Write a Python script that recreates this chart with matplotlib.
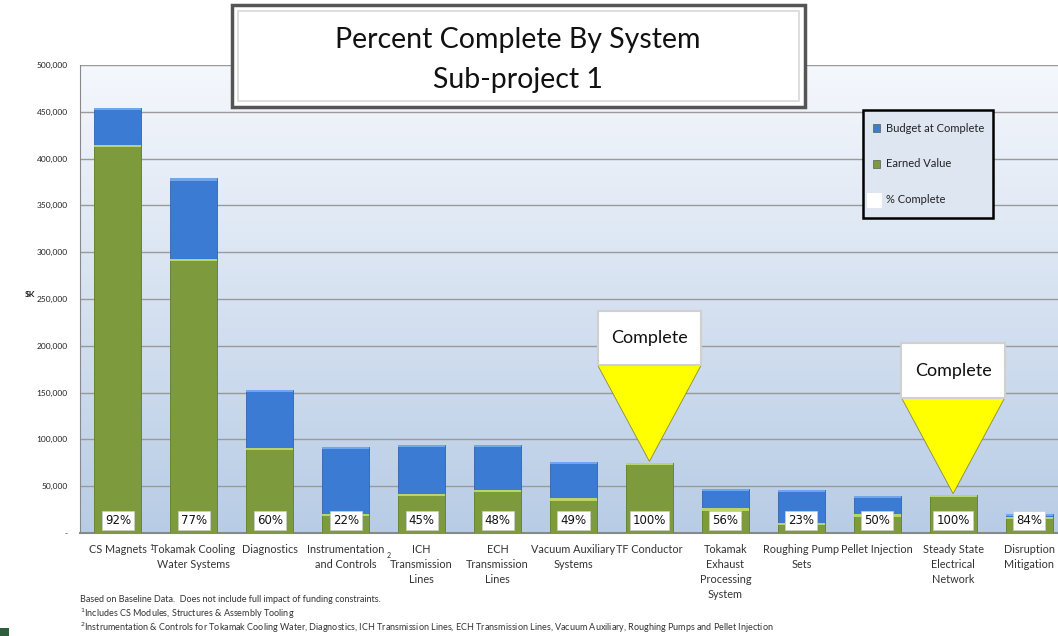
import matplotlib
matplotlib.use("Agg")
import matplotlib.pyplot as plt
import numpy as np
from matplotlib.patches import Rectangle, Polygon

plt.rcParams['font.family'] = ['Lato', 'DejaVu Sans']

categories = ["CS Magnets", "Tokamak Cooling\nWater Systems", "Diagnostics",
              "Instrumentation\nand Controls", "ICH\nTransmission\nLines",
              "ECH\nTransmission\nLines", "Vacuum Auxiliary\nSystems", "TF Conductor",
              "Tokamak\nExhaust\nProcessing\nSystem", "Roughing Pump\nSets",
              "Pellet Injection", "Steady State\nElectrical\nNetwork", "Disruption\nMitigation"]
budget = [454000, 379000, 153000, 92000, 94000, 94000, 76000, 75000, 47000, 46000, 39500, 40500, 20300]
earned = [415000, 293000, 91000, 20300, 41700, 46000, 37000, 75000, 26300, 10600, 19800, 40500, 17000]
pct_labels = ["92%", "77%", "60%", "22%", "45%", "48%", "49%", "100%", "56%", "23%", "50%", "100%", "84%"]
complete_idx = [7, 11]
yticks = [0, 50000, 100000, 150000, 200000, 250000, 300000, 350000, 400000, 450000, 500000]
ytick_labels = ["-", "50,000", "100,000", "150,000", "200,000", "250,000", "300,000",
                "350,000", "400,000", "450,000", "500,000"]

W, H = 1058, 636
fig = plt.figure(figsize=(W/100, H/100), dpi=100)
fig.patch.set_facecolor('white')

ax_l, ax_r, ax_t, ax_b = 80, 1067, 65, 533
ax = fig.add_axes([ax_l/W, 1-ax_b/H, (ax_r-ax_l)/W, (ax_b-ax_t)/H])
n = len(categories)
x = np.arange(n)
ax.set_xlim(-0.5, n-0.5)
ax.set_ylim(0, 500000)

# gradient background
grad = np.linspace(0, 1, 256).reshape(-1, 1)
c_top = np.array([0.96, 0.97, 0.99])
c_bot = np.array([0.72, 0.80, 0.90])
img = c_bot[None, None, :]*(1-grad[:, :, None]) + c_top[None, None, :]*grad[:, :, None]
ax.imshow(img, extent=[-0.5, n-0.5, 0, 500000], aspect='auto', origin='lower', zorder=0)

for yv in yticks[1:]:
    ax.axhline(yv, color='#9a9a9a', lw=1.0, zorder=1)

bw = 0.62
blue = '#3b7bd4'
green = '#7d9b3c'
ax.bar(x, budget, width=bw, color=blue, edgecolor='#2f65ad', lw=0.6, zorder=2)
for i in range(n):
    ax.add_patch(Rectangle((x[i]-bw/2, budget[i]-2500), bw, 2500, color='#6fa6ec', zorder=2.1, lw=0))
ax.bar(x, earned, width=bw, color=green, edgecolor='#6a8530', lw=0.6, zorder=3)
for i in range(n):
    ax.add_patch(Rectangle((x[i]-bw/2, earned[i]-2500), bw, 2500, color='#b9d46a', zorder=3.1, lw=0))

for i in range(n):
    ax.text(x[i], 13500, pct_labels[i], ha='center', va='center', fontsize=8.5,
            family=['DejaVu Sans'], color='#111111', zorder=5,
            bbox=dict(boxstyle='square,pad=0.25', fc='white', ec='#cccccc', lw=0.5))

ax.set_yticks(yticks)
ax.set_yticklabels(ytick_labels, fontsize=6, color='#222222')
ax.tick_params(axis='y', length=0, pad=9)
ax.set_xticks(x)
ax.set_xticklabels(categories, fontsize=7.8, color='#333333', linespacing=1.45)
ax.tick_params(axis='x', length=0, pad=8)
for s in ['top', 'right']:
    ax.spines[s].set_visible(False)
ax.spines['left'].set_color('#888888')
ax.spines['bottom'].set_color('#888888')
ax.spines['bottom'].set_linewidth(1.5)

fig.text(30/W, 1-295/H, "$K", fontsize=6, ha='center', va='center', color='#222222', fontweight='bold')
fig.text(151/W, 1-547/H, "1", fontsize=5, ha='center', va='center', color='#333333')
fig.text(389/W, 1-556/H, "2", fontsize=5, ha='center', va='center', color='#333333')

# Complete callouts
for i in complete_idx:
    tip = budget[i] + 1500
    tri_top = budget[i] + 104000
    box_top = tri_top + 58000
    hw = 0.68
    ax.add_patch(Polygon([[x[i]-hw, tri_top], [x[i]+hw, tri_top], [x[i], tip]], closed=True,
                         fc='#ffff00', ec='#8a8a40', lw=0.6, zorder=6))
    ax.add_patch(Rectangle((x[i]-hw, tri_top), 2*hw, box_top-tri_top, fc='white',
                           ec='#d0d0d0', lw=1.5, zorder=6))
    ax.text(x[i], (tri_top+box_top)/2, "Complete", ha='center', va='center', fontsize=13,
            color='#111111', zorder=7)

# Title box
tb = Rectangle((232/W, 1-107/H), (805-232)/W, (107-5)/H, transform=fig.transFigure,
               fc='white', ec='#555555', lw=2.5, zorder=10)
fig.add_artist(tb)
tb2 = Rectangle((238/W, 1-101/H), (799-238)/W, (101-11)/H, transform=fig.transFigure,
                fc='white', ec='#d8d8d8', lw=1.2, zorder=10)
fig.add_artist(tb2)
fig.text(518/W, 1-40/H, "Percent Complete By System", fontsize=20.5, ha='center', va='center', zorder=11, color='#111111')
fig.text(518/W, 1-80/H, "Sub-project 1", fontsize=20.5, ha='center', va='center', zorder=11, color='#111111')

# Legend box
lb = Rectangle((863/W, 1-218/H), (993-863)/W, (218-110)/H, transform=fig.transFigure,
               fc='#dde6f1', ec='black', lw=1.8, zorder=10)
fig.add_artist(lb)
leg_items = [("Budget at Complete", blue, 128), ("Earned Value", green, 164), ("% Complete", 'white', 200)]
for label, col, yy in leg_items:
    if col == 'white':
        fig.add_artist(Rectangle((867/W, 1-(yy+8)/H), 15/W, 15/H, transform=fig.transFigure,
                                 fc='white', ec='none', zorder=11))
    else:
        fig.add_artist(Rectangle((873/W, 1-(yy+4)/H), 7/W, 8/H, transform=fig.transFigure,
                                 fc=col, ec='#444444', lw=0.4, zorder=11))
    fig.text(886/W, 1-yy/H, label, fontsize=8, ha='left', va='center', color='#222222', zorder=11)

# footnotes
fig.text(80/W, 1-600/H, "Based on Baseline Data.  Does not include full impact of funding constraints.",
         fontsize=6.5, ha='left', va='center', color='#333333')
fig.text(80/W, 1-614/H, "$^{1}$Includes CS Modules, Structures & Assembly Tooling",
         fontsize=6.5, ha='left', va='center', color='#333333')
fig.text(80/W, 1-628/H, "$^{2}$Instrumentation & Controls for Tokamak Cooling Water, Diagnostics, ICH Transmission Lines, ECH Transmission Lines, Vacuum Auxiliary, Roughing Pumps and Pellet Injection",
         fontsize=6.5, ha='left', va='center', color='#333333')

fig.add_artist(Rectangle((0, 0), 9/W, 8/H, transform=fig.transFigure, fc='#2e5e3e', ec='none'))

fig.savefig("out.png", dpi=100)
